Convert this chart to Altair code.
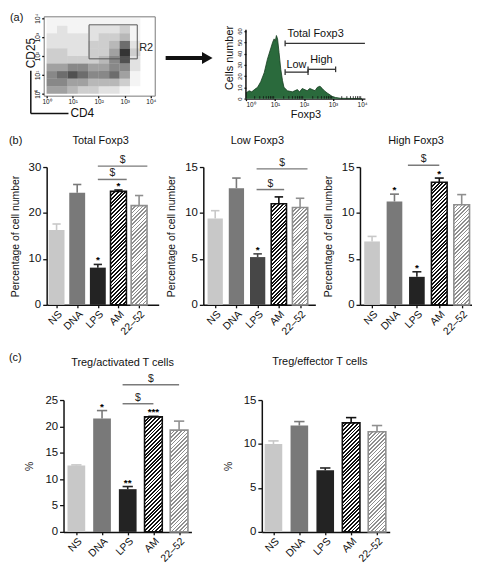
import altair as alt
import numpy as np
import pandas as pd

FONT = "Liberation Sans"

groups = ["NS", "DNA", "LPS", "AM", "22–52"]

# ---------- panel (b) ----------
total_vals = [16.3, 24.4, 8.1, 24.7, 21.6]
total_err = [17.6, 26.2, 8.8, 25.0, 23.8]
total_star = ["", "", "*", "*", ""]
total_sig_from = [2.0, 2.0]
total_sig_to = [3.4, 4.4]
total_sig_level = [27.3, 30.2]

low_vals = [9.4, 12.7, 5.2, 11.0, 10.6]
low_err = [10.25, 13.8, 5.55, 11.75, 11.6]
low_star = ["", "", "*", "", ""]
low_sig_from = [1.95, 1.95]
low_sig_to = [3.25, 4.35]
low_sig_level = [12.55, 14.8]

high_vals = [6.9, 11.25, 3.05, 13.35, 10.9]
high_err = [7.45, 12.05, 3.6, 13.8, 12.0]
high_star = ["", "*", "*", "*", ""]
high_sig_from = [1.6]
high_sig_to = [3.0]
high_sig_level = [15.2]

# ---------- panel (c) ----------
act_vals = [12.6, 21.5, 8.1, 21.8, 19.3]
act_err = [12.7, 23.0, 8.6, 21.9, 21.0]
act_star = ["", "*", "**", "***", ""]
act_sig_from = [1.8, 1.8]
act_sig_to = [3.0, 4.0]
act_sig_level = [24.3, 27.9]

eff_vals = [10.0, 12.1, 7.0, 12.4, 11.4]
eff_err = [10.35, 12.55, 7.27, 13.0, 12.1]
eff_star = ["", "", "", "", ""]

# ---------- panel (a) ----------
# flow plot density (CD4 x CD25, log10 exponents), rows from top (CD25 3.6-4.0) to bottom (0-0.4)
dens_rows = [
    [1, 1, 1, 1, 1, 1, 1, 1, 1, 0],
    [1, 2, 1, 1, 2, 2, 2, 3, 1, 0],
    [2, 2, 2, 2, 2, 3, 3, 4, 1, 0],
    [2, 2, 2, 2, 3, 3, 4, 7, 2, 0],
    [3, 3, 2, 2, 3, 3, 5, 9, 3, 0],
    [3, 3, 3, 3, 3, 4, 6, 8, 2, 0],
    [5, 5, 6, 6, 5, 5, 6, 6, 2, 0],
    [6, 7, 8, 7, 6, 6, 7, 5, 1, 0],
    [6, 6, 5, 5, 4, 4, 4, 3, 1, 0],
    [5, 5, 4, 3, 3, 2, 2, 1, 0, 0],
]
dens_bin = 0.4
gate_r2 = [1.63, 3.48, 1.85, 3.65]  # x from, x to, y from, y to

hist_exp = [0, 0.11, 0.2, 0.29, 0.4, 0.51, 0.63, 0.74, 0.86, 0.92, 0.97, 1.01, 1.05, 1.09,
            1.14, 1.2, 1.26, 1.31, 1.43, 1.6, 1.77, 1.85, 1.94, 2.11, 2.2, 2.29, 2.38, 2.46,
            2.55, 2.63, 2.7, 2.8, 2.97, 3.09, 3.26, 4.0]
hist_count = [5, 7, 6, 8, 10, 15, 23, 35, 45, 50, 53, 51, 56, 53, 41, 26, 16, 10, 7, 6, 8, 6,
              9, 7, 9, 8, 7, 10, 11, 9, 7, 5, 2, 1, 0.3, 0]
gate_names = ["Total Foxp3", "Low", "High"]
gate_from = [1.35, 1.35, 2.14]
gate_to = [4.1, 2.14, 3.09]
gate_level = [49, 23.5, 26]
gate_label_x = [2.4, 1.74, 2.6]
gate_label_y = [57, 29.5, 34.5]
gate_tick_x = [1.35, 1.35, 2.14, 2.14, 3.09]
gate_tick_y = [49, 23.5, 23.5, 26, 26]

exp_labels = ["10⁰", "10¹", "10²", "10³", "10⁴"]
exp_expr = "[" + ",".join("'%s'" % s for s in exp_labels) + "][datum.value]"
group_expr = "[" + ",".join("'%s'" % s for s in groups) + "][datum.value]"


def hatch(w, h, color, frac, period=3.8):
    total = w + h
    k = total / (w * w + h * h)
    stops = []
    j = 0
    while j * period < total:
        a = j * period / total
        b = min((j * period + frac * period) / total, 1.0)
        c = min((j + 1) * period / total, 1.0)
        stops += [alt.GradientStop(color=color, offset=a), alt.GradientStop(color=color, offset=b),
                  alt.GradientStop(color="white", offset=b), alt.GradientStop(color="white", offset=c)]
        j += 1
    return alt.LinearGradient(gradient="linear", stops=stops, x1=0, y1=0, x2=w * k, y2=h * k)


def spacer():
    return alt.Chart(pd.DataFrame({"t": [""]})).mark_text().encode(
        text="t", x=alt.value(0), y=alt.value(0)).properties(width=1, height=1)


def bar_panel(title, vals, errs, stars, sig_from, sig_to, sig_level, ymax, yticks, ytitle,
              W, H, lo, hi, hw, lps_color, title_dx, title_y, tag=None, tag_xy=(0, 0),
              ytitle_pad=8):
    idx = list(range(len(groups)))
    df = pd.DataFrame({"g": groups, "i": idx, "v": vals, "e": errs, "s": stars})
    df["x0"] = df["i"] - hw
    df["x1"] = df["i"] + hw
    df["z"] = 0.0
    df["c"] = ["#c8c8c8", "#797979", lps_color, "#111111", "#8f8f8f"]
    df["cl"] = df["i"] - 0.2
    df["cr"] = df["i"] + 0.2
    xs = alt.Scale(domain=[lo, hi], nice=False, zero=False)
    ys = alt.Scale(domain=[0, ymax], nice=False)
    xaxis = alt.Axis(values=idx, labelExpr=group_expr, labelAngle=-45, title=None, tickSize=3,
                     labelPadding=1, labelFontSize=10.5, labelOverlap=False)
    yaxis = alt.Axis(values=yticks, title=ytitle, tickSize=4, labelFontSize=11.5,
                     titleFontSize=10.5, titlePadding=ytitle_pad, labelPadding=2)

    def X(f):
        return alt.X(f, type="quantitative", scale=xs, axis=xaxis)

    def Y(f):
        return alt.Y(f, type="quantitative", scale=ys, axis=yaxis)

    base = alt.Chart(df)
    layers = []
    layers.append(base.transform_filter("datum.i < 3").mark_rect().encode(
        x=X("x0"), x2="x1", y=Y("v"), y2="z", color=alt.Color("c:N", scale=None)))
    wpx = 2 * hw / (hi - lo) * W
    for i, col, fr in [(3, "#111111", 0.5), (4, "#8f8f8f", 0.42)]:
        hpx = vals[i] / ymax * H
        layers.append(base.transform_filter("datum.i == %d" % i).mark_rect(
            fill=hatch(wpx, hpx, col, fr), stroke=col, strokeWidth=1.6).encode(
            x=X("x0"), x2="x1", y=Y("v"), y2="z"))
    layers.append(base.mark_rule(strokeWidth=1.6).encode(
        x=X("i"), y=Y("v"), y2="e", color=alt.Color("c:N", scale=None)))
    layers.append(base.mark_rule(strokeWidth=1.6).encode(
        x=X("cl"), x2="cr", y=Y("e"), color=alt.Color("c:N", scale=None)))
    layers.append(base.mark_text(baseline="bottom", dy=1, fontSize=10, fontWeight="bold",
                                 color="#000").encode(x=X("i"), y=Y("e"), text="s"))
    sdf = pd.DataFrame({"a": sig_from, "b": sig_to, "lvl": sig_level})
    sdf["m"] = (sdf["a"] + sdf["b"]) / 2
    sdf["t"] = "$"
    sb = alt.Chart(sdf)
    layers.append(sb.mark_rule(strokeWidth=1.5, color="#7a7a7a").encode(x=X("a"), x2="b", y=Y("lvl")))
    layers.append(sb.mark_text(baseline="bottom", dy=-1, fontSize=10.5, color="#222").encode(
        x=X("m"), y=Y("lvl"), text="t"))
    tdf = pd.DataFrame({"t": [title], "tag": [tag or ""]})
    layers.append(alt.Chart(tdf).mark_text(baseline="middle", fontSize=11, color="#111").encode(
        text="t", x=alt.value(W / 2 + title_dx), y=alt.value(title_y)))
    if tag:
        layers.append(alt.Chart(tdf).mark_text(
            align="left", baseline="middle", fontSize=11, color="#111").encode(
            text="tag", x=alt.value(tag_xy[0]), y=alt.value(tag_xy[1])))
    return alt.layer(*layers).properties(width=W, height=H)


# ---------- scatter (flow cytometry) ----------
cells = []
for r, row in enumerate(dens_rows):
    for c, d in enumerate(row):
        y1 = 4 - r * dens_bin
        cells.append({"x0": c * dens_bin, "x1": (c + 1) * dens_bin, "y0": y1 - dens_bin, "y1": y1, "d": d})
cdf = pd.DataFrame(cells)
SW, SH = 112, 80
sx = alt.Scale(domain=[-0.11, 4.15], nice=False, zero=False)
sy = alt.Scale(domain=[-0.1, 4.1], nice=False, zero=False)
sxa = alt.Axis(values=[0, 1, 2, 3, 4], labelExpr=exp_expr, title=None, labelFontSize=6.5,
               tickSize=2, domain=False, labelPadding=1)
sya = alt.Axis(values=[0, 1, 2, 3, 4], labelExpr=exp_expr, title=None, labelFontSize=6.5,
               tickSize=2, domain=False, labelAngle=-90, labelPadding=1)
dens = alt.Chart(cdf).mark_rect().encode(
    x=alt.X("x0:Q", scale=sx, axis=sxa), x2="x1",
    y=alt.Y("y0:Q", scale=sy, axis=sya), y2="y1",
    opacity=alt.Opacity("d:Q", scale=alt.Scale(type="pow", exponent=1.3, domain=[0, 9], range=[0, 0.85]),
                        legend=None),
    color=alt.value("#111"))
gdf = pd.DataFrame({"x0": [gate_r2[0]], "x1": [gate_r2[1]], "y0": [gate_r2[2]], "y1": [gate_r2[3]],
                    "t": ["R2"], "ly": [(gate_r2[2] + gate_r2[3]) / 2 - 0.35]})
gate = alt.Chart(gdf).mark_rect(fill="white", fillOpacity=0, stroke="#555", strokeWidth=1).encode(
    x=alt.X("x0:Q", scale=sx, axis=sxa), x2="x1", y=alt.Y("y0:Q", scale=sy, axis=sya), y2="y1")
r2 = alt.Chart(gdf).mark_text(align="left", dx=2, fontSize=11, color="#222").encode(
    x=alt.X("x1:Q", scale=sx, axis=sxa), y=alt.Y("ly:Q", scale=sy, axis=sya), text="t")
one = pd.DataFrame({"t": ["(a)"], "c25": ["CD25"], "c4": ["CD4"]})
tag_a = alt.Chart(one).mark_text(align="left", fontSize=11, color="#111").encode(
    text="t", x=alt.value(-34), y=alt.value(2))
cd25 = alt.Chart(one).mark_text(angle=270, fontSize=12, color="#111").encode(
    text="c25", x=alt.value(-13), y=alt.value(37))
cd4 = alt.Chart(one).mark_text(align="left", fontSize=12, color="#111").encode(
    text="c4", x=alt.value(27), y=alt.value(98))
lv = alt.Chart(one).mark_rule(strokeWidth=1.5, color="#111").encode(
    x=alt.value(-13), y=alt.value(55), y2=alt.value(98))
lh = alt.Chart(one).mark_rule(strokeWidth=1.5, color="#111").encode(
    x=alt.value(-13), x2=alt.value(25), y=alt.value(98))
scatter = alt.layer(dens, gate, r2, tag_a, cd25, cd4, lv, lh).properties(
    width=SW, height=SH, view=alt.ViewBackground(stroke="#777", strokeWidth=1))

# ---------- arrow ----------
arr = alt.Chart(pd.DataFrame({"a": [1]}))
shaft = arr.mark_rule(strokeWidth=4, color="#111").encode(
    x=alt.value(0), x2=alt.value(38), y=alt.value(42))
head = arr.mark_point(shape="triangle-right", filled=True, size=150, color="#111", opacity=1).encode(
    x=alt.value(42), y=alt.value(42))
arrow = alt.layer(shaft, head).properties(width=50, height=SH)

# ---------- histogram ----------
HW, HH = 120, 83
hx = alt.Scale(domain=[0, 4.1], nice=False, zero=False)
hy = alt.Scale(domain=[0, 73], nice=False)
hxa = alt.Axis(values=[0, 1, 2, 3, 4], labelExpr=exp_expr, title="Foxp3", labelFontSize=6.5,
               tickSize=2, labelPadding=1, titleFontSize=11, titlePadding=1, titleFontWeight="normal")
hya = alt.Axis(values=[0, 10, 20, 30, 40, 50, 60], title="Cells number", labelFontSize=6,
               labelAngle=-90, tickSize=2, domain=False, labelPadding=1, titleFontSize=11,
               titlePadding=3)
hdf = pd.DataFrame({"e": hist_exp, "n": hist_count})
area = alt.Chart(hdf).mark_area(color="#2a6a3c", opacity=1,
                                line=alt.OverlayMarkDef(color="#163d1f", strokeWidth=0.8)).encode(
    x=alt.X("e:Q", scale=hx, axis=hxa), y=alt.Y("n:Q", scale=hy, axis=hya))
minor = []
for d in range(4):
    for k in range(2, 10):
        minor.append(d + np.log10(k))
mdf = pd.DataFrame({"m": minor, "z": 0.0, "t": 2.2})
minor_t = alt.Chart(mdf).mark_rule(strokeWidth=0.8, color="#111").encode(
    x=alt.X("m:Q", scale=hx, axis=hxa), y=alt.Y("z:Q", scale=hy, axis=hya), y2="t")
yline = alt.Chart(pd.DataFrame({"x": [0.0], "a": [0.0], "b": [61.0]})).mark_rule(
    strokeWidth=1.5, color="#111").encode(x=alt.X("x:Q", scale=hx, axis=hxa),
                                          y=alt.Y("a:Q", scale=hy, axis=hya), y2="b")
gl = pd.DataFrame({"n": gate_names, "a": gate_from, "b": gate_to, "l": gate_level,
                   "lx": gate_label_x, "ly": gate_label_y})
gates = alt.Chart(gl).mark_rule(strokeWidth=1.3, color="#333").encode(
    x=alt.X("a:Q", scale=hx, axis=hxa), x2="b", y=alt.Y("l:Q", scale=hy, axis=hya))
glabels = alt.Chart(gl).mark_text(fontSize=11, color="#111").encode(
    x=alt.X("lx:Q", scale=hx, axis=hxa), y=alt.Y("ly:Q", scale=hy, axis=hya), text="n")
gt = pd.DataFrame({"x": gate_tick_x, "y": gate_tick_y})
gt["a"] = gt["y"] - 2.5
gt["b"] = gt["y"] + 2.5
gticks = alt.Chart(gt).mark_rule(strokeWidth=1.3, color="#333").encode(
    x=alt.X("x:Q", scale=hx, axis=hxa), y=alt.Y("a:Q", scale=hy, axis=hya), y2="b")
hist = alt.layer(area, minor_t, yline, gates, gticks, glabels).properties(width=HW, height=HH)

row1 = alt.hconcat(spacer(), alt.hconcat(scatter, arrow, hist, spacing=7), spacing=0)

# ---------- rows b and c ----------
BW, BH = 113, 139
b1 = bar_panel("Total Foxp3", total_vals, total_err, total_star, total_sig_from, total_sig_to,
               total_sig_level, 30, [0, 10, 20, 30], "Percentage of cell number", BW, BH,
               -0.48, 4.95, 0.385, "#232323", -2, -26, tag="(b)", tag_xy=(-38, -26))
b2 = bar_panel("Low Foxp3", low_vals, low_err, low_star, low_sig_from, low_sig_to, low_sig_level,
               15, [0, 5, 10, 15], "Percentage of cell number", BW, BH,
               -0.56, 4.72, 0.36, "#474747", -2, -26)
b3 = bar_panel("High Foxp3", high_vals, high_err, high_star, high_sig_from, high_sig_to,
               high_sig_level, 15, [0, 5, 10, 15], "Percentage of cell number", BW, BH,
               -0.54, 4.46, 0.35, "#232323", 0, -26)
row2 = alt.hconcat(spacer(), alt.hconcat(b1, b2, b3, spacing=8), spacing=0)

CW, CH = 129, 133
c1 = bar_panel("Treg/activated T cells", act_vals, act_err, act_star, act_sig_from, act_sig_to,
               act_sig_level, 25, [0, 5, 10, 15, 20, 25], "%", CW, CH,
               -0.5, 4.48, 0.345, "#232323", -5, -37, tag="(c)", tag_xy=(-55, -42), ytitle_pad=10)
c2 = bar_panel("Treg/effector T cells", eff_vals, eff_err, eff_star, [], [], [],
               15, [0, 5, 10, 15], "%", CW, CH,
               -0.45, 4.49, 0.34, "#232323", -6, -38, ytitle_pad=10)
row3 = alt.hconcat(spacer(), alt.hconcat(c1, c2, spacing=32), spacing=0)

lower = alt.vconcat(row2, row3, spacing=15)
chart = alt.vconcat(row1, lower, spacing=15).properties(
    padding=0).configure(font=FONT).configure_view(strokeWidth=0).configure_axis(
    labelFont=FONT, titleFont=FONT, labelColor="#111", titleColor="#111", domainColor="#111",
    tickColor="#111", domainWidth=1.5, tickWidth=1.3, grid=False, titleFontWeight="normal")

chart.save("out.html", embed_options={"renderer": "svg", "actions": False})
